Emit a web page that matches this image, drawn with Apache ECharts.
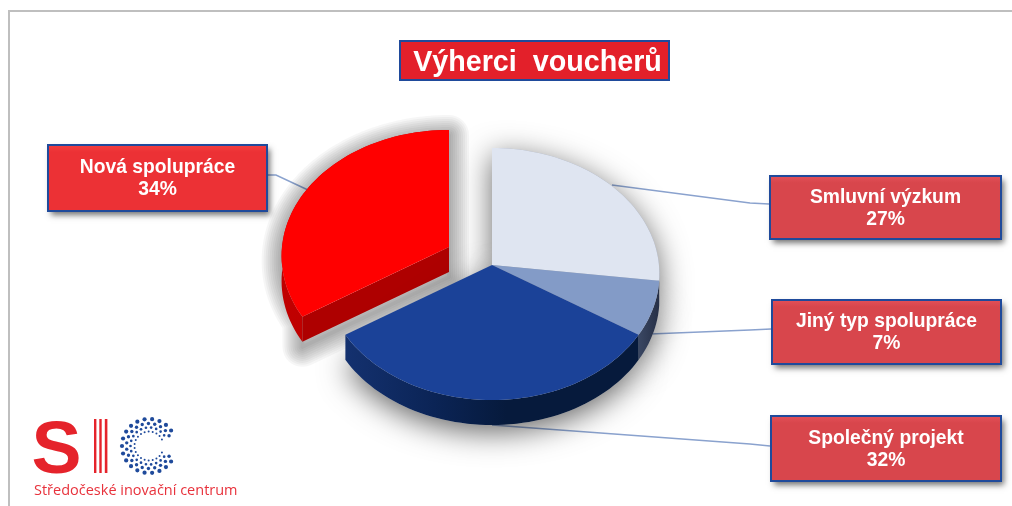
<!DOCTYPE html>
<html><head><meta charset="utf-8">
<style>html,body{margin:0;padding:0;background:#fff}#c{width:1012px;height:506px}</style>
<script src="https://cdn.jsdelivr.net/npm/echarts@6/dist/echarts.min.js"></script>
</head><body><div id="c"></div>
<script>
const titleText = 'Výherci  voucherů';
const categories = ['Smluvní výzkum', 'Jiný typ spolupráce', 'Společný projekt', 'Nová spolupráce'];
const shares = [27, 7, 32, 34];
const exploded = [0, 0, 0, 1];
const logoLetter = 'S';
const logoName = 'Středočeské inovační centrum';

// styling and layout, kept apart from the data
const topColors = ['#DFE5F1', '#839BC7', '#1B4298', '#FF0000'];
const sideStops = [
  [[0, '#AEB6C8'], [1, '#8F98AC']],
  [[0, '#3A4763'], [1, '#262F46']],
  [[0, '#14316F'], [0.3, '#0B2456'], [0.55, '#061A3C'], [1, '#061A3C']],
  [[0, '#C00000'], [1, '#B80000']]
];
const cutColor = '#AE0000';
const boxFills = [['#E5525A', '#D8464C'], ['#E5525A', '#D8464C'], ['#E5525A', '#D8464C'], ['#F4403F', '#EC3135']];
const boxes = [[770, 176, 231, 63], [772, 300, 229, 64], [771, 416, 230, 65], [48, 145, 219, 66]];
const leaders = [
  [[612, 185], [750, 203], [769, 204]],
  [[650, 334], [750, 330], [771, 329]],
  [[492, 425], [750, 444], [770, 446]],
  [[308, 190], [276, 175], [267, 175]]
];
const P = { cx: 492, cy: 265, rx: 167, ry: 125.4, k: 0.0714, depth: 25, ex: -43, ey: -18 };
const shadowStyle = { shadowBlur: 30, shadowColor: 'rgba(0,0,0,0.6)', shadowOffsetX: 0, shadowOffsetY: 7 };
const haloWidths = [4, 8, 12, 16, 20, 24, 28, 32, 36, 40];

function project(frac, ox, oy) {
  const a = frac * Math.PI * 2, u = Math.sin(a), v = -Math.cos(a), d = 1 - P.k * v;
  return [P.cx + ox + P.rx * u / d, P.cy + oy + P.ry * v / d];
}
const total = shares.reduce((a, b) => a + b, 0);
function sliceInfo(i) {
  let s = 0;
  for (let j = 0; j < i; j++) s += shares[j];
  const off = exploded[i] ? [P.ex, P.ey] : [0, 0];
  const start = s / total, end = (s + shares[i]) / total, pts = [];
  const n = Math.max(8, Math.round((end - start) * 180));
  for (let t = 0; t <= n; t++) pts.push(project(start + (end - start) * t / n, off[0], off[1]));
  return { off, pts, apex: [P.cx + off[0], P.cy + off[1]] };
}
const down = p => [p[0], p[1] + P.depth];
const stopsGrad = stops => new echarts.graphic.LinearGradient(0, 0, 1, 0, stops.map(s => ({ offset: s[0], color: s[1] })));
const boxGrad = c => new echarts.graphic.LinearGradient(0, 0, 0, 1, [{ offset: 0, color: c[0] }, { offset: 0.12, color: c[1] }, { offset: 1, color: c[1] }]);

// soft shadow of the slices that stay in the pie, sitting under all faces
function renderShadow(params, api) {
  const s = sliceInfo(api.value(1));
  const hull = [s.apex].concat(s.pts).map(p => (p[1] > P.cy ? down(p) : p));
  return { type: 'polygon', shape: { points: hull }, style: Object.assign({ fill: '#ccc' }, shadowStyle) };
}
function renderSlice(params, api) {
  const i = api.value(1), s = sliceInfo(i), children = [];
  if (exploded[i]) {
    // the pulled-out slice gets a soft halo from widening translucent outlines
    const hull = [s.apex, down(s.apex), down(s.pts[0])].concat(s.pts).map(p => [p[0], p[1] + 5]);
    haloWidths.forEach(w => children.push({ type: 'polygon', shape: { points: hull },
      style: { fill: 'none', stroke: 'rgba(0,0,0,0.036)', lineWidth: w, lineJoin: 'round' } }));
  }
  children.push({ type: 'polygon', shape: { points: s.pts.concat(s.pts.map(down).reverse()) }, style: { fill: stopsGrad(sideStops[i]) } });
  if (exploded[i]) {
    const first = s.pts[0];
    children.push({ type: 'polygon', shape: { points: [first, s.apex, down(s.apex), down(first)] }, style: { fill: cutColor } });
  }
  children.push({ type: 'polygon', shape: { points: [s.apex].concat(s.pts) }, style: { fill: topColors[i] } });
  return { type: 'group', children };
}
function renderLabel(params, api) {
  const i = api.value(1), b = boxes[i], shape = { x: b[0], y: b[1], width: b[2], height: b[3] };
  return { type: 'group', children: [
    { type: 'polyline', shape: { points: leaders[i] }, style: { fill: 'none', stroke: '#8AA2CE', lineWidth: 1.5 } },
    { type: 'rect', shape, style: { fill: '#D8464C', shadowBlur: 6, shadowColor: 'rgba(0,0,0,0.55)', shadowOffsetX: 3, shadowOffsetY: 4 } },
    { type: 'rect', shape, style: { fill: boxGrad(boxFills[i]), stroke: '#1F4A9B', lineWidth: 2 } },
    { type: 'text', x: b[0] + b[2] / 2, y: b[1] + b[3] / 2 + 1,
      style: { text: categories[i] + '\n' + api.value(0) + '%', fill: '#fff', align: 'center', verticalAlign: 'middle',
        fontFamily: '"Liberation Sans"', fontWeight: 'bold', fontSize: 19.3, lineHeight: 22 } }
  ] };
}

const logo = [];
[[94, 2.4], [99.3, 2.4], [104.8, 2.6]].forEach(b => logo.push({ type: 'rect', shape: { x: b[0], y: 419, width: b[1], height: 54 }, style: { fill: '#E5232B' } }));
const rings = [[14.5, 1.0, 0], [18.5, 1.35, 0.5], [22.5, 1.7, 0], [27, 2.1, 0.5]];
rings.forEach(r => {
  for (let t = 0; t < 20; t++) {
    if (r[2] && t === 19) continue;
    const a = (27 + (306 * (t + r[2])) / 19) * Math.PI / 180;
    logo.push({ type: 'circle', shape: { cx: 149 + r[0] * Math.cos(a), cy: 446 - r[0] * Math.sin(a), r: r[1] }, style: { fill: '#1F4A9B' } });
  }
});

const sliceData = shares.map((v, i) => [v, i]);
const chart = echarts.init(document.getElementById('c'), null, { renderer: 'canvas' });
chart.setOption({
  animation: false,
  backgroundColor: '#fff',
  graphic: { elements: [
    { type: 'line', z: 0, shape: { x1: 9, y1: 506, x2: 9, y2: 11 }, style: { stroke: '#BFBFBF', lineWidth: 2 } },
    { type: 'line', z: 0, shape: { x1: 8, y1: 11, x2: 1012, y2: 11 }, style: { stroke: '#BFBFBF', lineWidth: 2 } },
    { type: 'rect', z: 5, shape: { x: 400, y: 41, width: 269, height: 39 }, style: { fill: '#E3202A', stroke: '#1F4A9B', lineWidth: 2 } },
    { type: 'text', z: 6, x: 537.5, y: 63, style: { text: titleText, fill: '#fff', align: 'center', verticalAlign: 'middle', fontFamily: '"Liberation Sans"', fontWeight: 'bold', fontSize: 28.7 } },
    { type: 'text', z: 6, x: 56.5, y: 452, style: { text: logoLetter, fill: '#E5232B', align: 'center', verticalAlign: 'middle', fontFamily: '"Liberation Sans"', fontWeight: 'bold', fontSize: 75 } },
    { type: 'text', z: 6, x: 34, y: 491, style: { text: logoName, fill: '#E8323C', align: 'left', verticalAlign: 'middle', fontFamily: '"Open Sans"', fontSize: 14.5 } }
  ].concat(logo) },
  series: [
    { type: 'custom', coordinateSystem: 'none', silent: true, z: 1, renderItem: renderLabel, data: sliceData },
    { type: 'custom', coordinateSystem: 'none', silent: true, z: 2, renderItem: renderSlice, data: sliceData.filter(d => exploded[d[1]]) },
    { type: 'custom', coordinateSystem: 'none', silent: true, z: 3, renderItem: renderShadow, data: sliceData.filter(d => !exploded[d[1]]) },
    { type: 'custom', coordinateSystem: 'none', silent: true, z: 4, renderItem: renderSlice, data: sliceData.filter(d => !exploded[d[1]]) }
  ]
});
</script></body></html>
